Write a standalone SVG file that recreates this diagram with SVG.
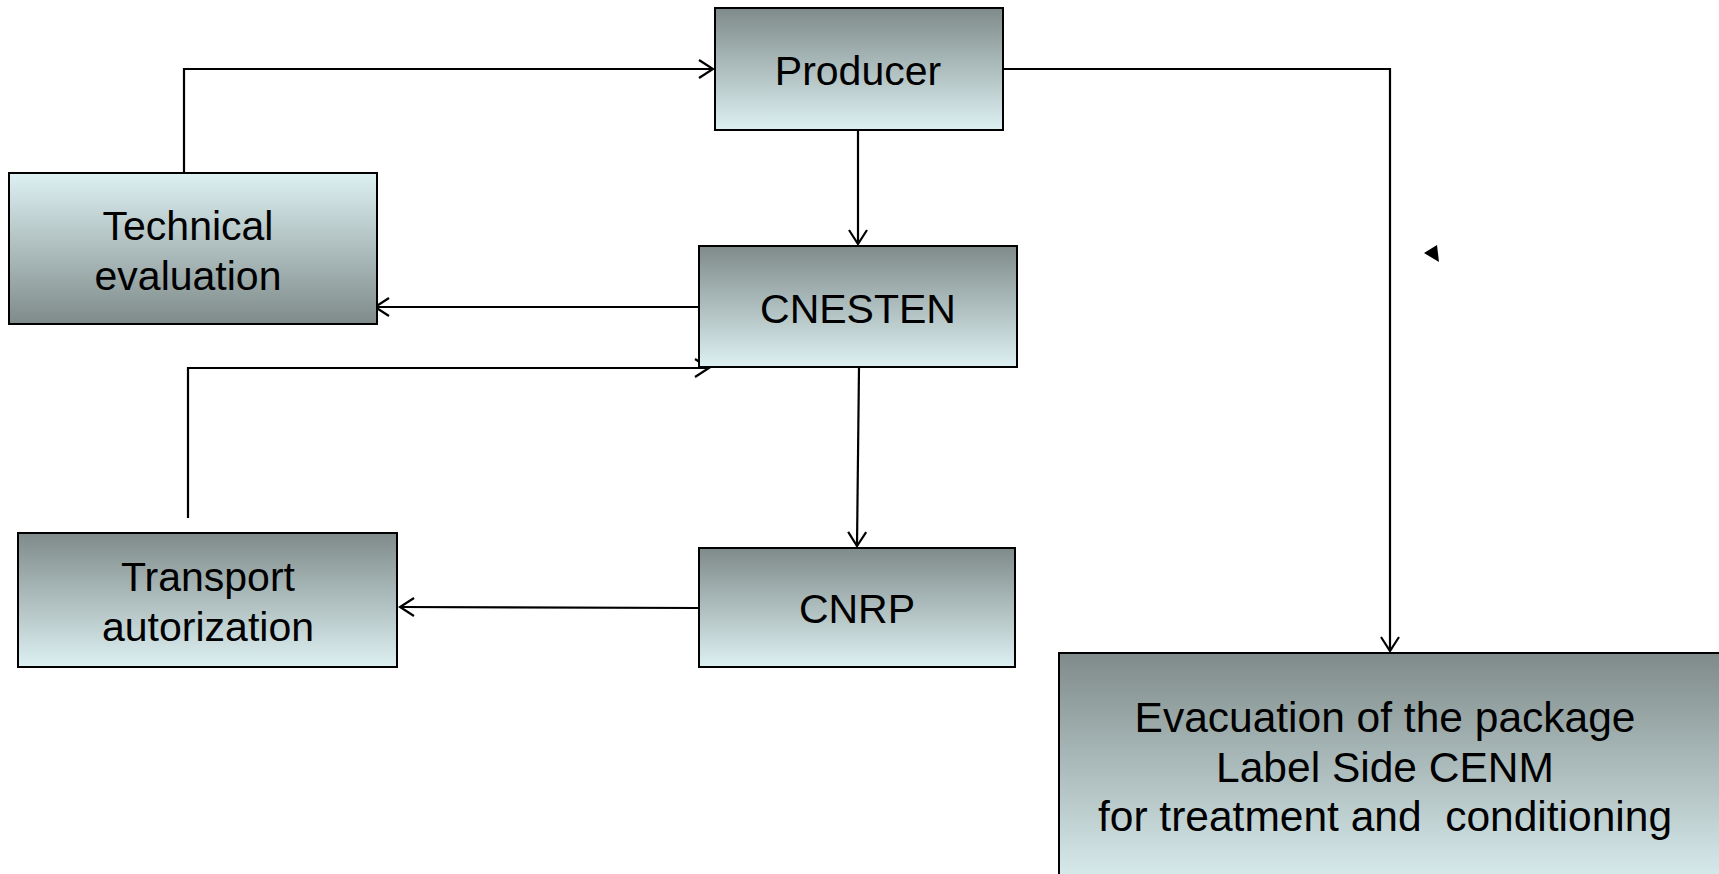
<svg xmlns="http://www.w3.org/2000/svg" width="1719" height="874" viewBox="0 0 1719 874">
  <defs>
    <linearGradient id="gDown" x1="0" y1="0" x2="0" y2="1">
      <stop offset="0" stop-color="#7f8b8a"/>
      <stop offset="1" stop-color="#ddf0f2"/>
    </linearGradient>
    <linearGradient id="gUp" x1="0" y1="0" x2="0" y2="1">
      <stop offset="0" stop-color="#ddf0f2"/>
      <stop offset="1" stop-color="#7f8b8a"/>
    </linearGradient>
    <marker id="open" markerUnits="userSpaceOnUse" markerWidth="18" markerHeight="22" viewBox="0 0 18 22" refX="16" refY="11" orient="auto">
      <path d="M2,2 L16,11 L2,20" fill="none" stroke="#000" stroke-width="2.2"/>
    </marker>
  </defs>
  <style>
    .box { stroke: #000; stroke-width: 2; }
    .lbl { font-family: "Liberation Sans", Arial, sans-serif; font-size: 41px; fill: #000; text-anchor: middle; }
    .big { font-size: 42.5px; }
    .con { fill: none; stroke: #000; stroke-width: 2.2; }
  </style>
  <rect width="1719" height="874" fill="#fff"/>

  <g id="connectors">
    <polyline class="con" points="184,173 184,69 713,69" marker-end="url(#open)"/>
    <line class="con" x1="858" y1="130" x2="858" y2="244" marker-end="url(#open)"/>
    <line class="con" x1="699" y1="307" x2="375" y2="307" marker-end="url(#open)"/>
    <polyline class="con" points="188,518 188,368 709,368" marker-end="url(#open)"/>
    <line class="con" x1="859" y1="367" x2="857" y2="546" marker-end="url(#open)"/>
    <line class="con" x1="699" y1="608" x2="400" y2="607" marker-end="url(#open)"/>
    <polyline class="con" points="1003,69 1390,69 1390,651" marker-end="url(#open)"/>
    <polygon points="1424,253 1437,245 1439,262" fill="#000"/>
  </g>

  <g id="producer">
    <rect class="box" x="715" y="8" width="288" height="122" fill="url(#gDown)"/>
    <text class="lbl" x="858" y="85">Producer</text>
  </g>
  <g id="technical-evaluation">
    <rect class="box" x="9" y="173" width="368" height="151" fill="url(#gUp)"/>
    <text class="lbl" x="188" y="240">Technical</text>
    <text class="lbl" x="188" y="290">evaluation</text>
  </g>
  <g id="cnesten">
    <rect class="box" x="699" y="246" width="318" height="121" fill="url(#gDown)"/>
    <text class="lbl" x="858" y="323">CNESTEN</text>
  </g>
  <g id="transport-autorization">
    <rect class="box" x="18" y="533" width="379" height="134" fill="url(#gDown)"/>
    <text class="lbl" x="208" y="591">Transport</text>
    <text class="lbl" x="208" y="641">autorization</text>
  </g>
  <g id="cnrp">
    <rect class="box" x="699" y="548" width="316" height="119" fill="url(#gDown)"/>
    <text class="lbl" x="857" y="623">CNRP</text>
  </g>
  <g id="evacuation">
    <rect class="box" x="1059" y="653" width="680" height="240" fill="url(#gDown)"/>
    <text class="lbl big" x="1385" y="732">Evacuation of the package</text>
    <text class="lbl big" x="1385" y="782">Label Side CENM</text>
    <text class="lbl big" x="1385" y="831" xml:space="preserve">for treatment and  conditioning</text>
  </g>
</svg>
